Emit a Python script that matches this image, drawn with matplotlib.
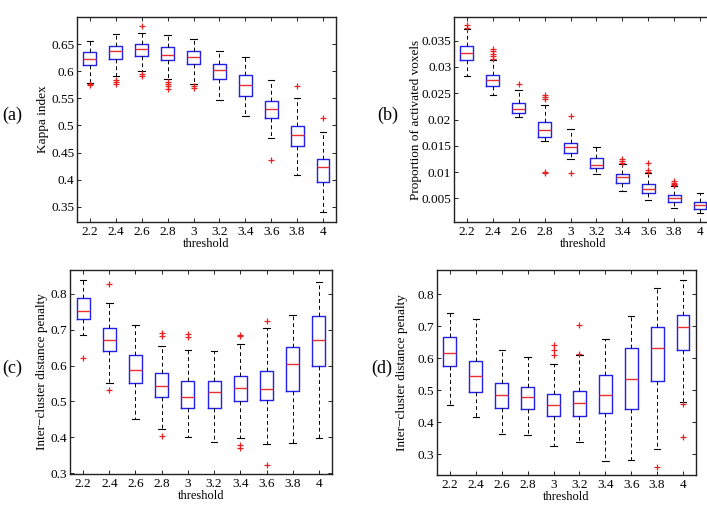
import matplotlib
matplotlib.use("Agg")
from matplotlib import pyplot as plt

thresholds = ['2.2', '2.4', '2.6', '2.8', '3', '3.2', '3.4', '3.6', '3.8', '4']

# (a) Kappa index
kappa_med = [0.623, 0.638, 0.641, 0.630, 0.627, 0.602, 0.575, 0.530, 0.482, 0.423]
kappa_q1 = [0.611, 0.622, 0.629, 0.621, 0.613, 0.585, 0.554, 0.514, 0.462, 0.396]
kappa_q3 = [0.635, 0.647, 0.651, 0.645, 0.638, 0.613, 0.594, 0.546, 0.499, 0.438]
kappa_lo = [0.578, 0.591, 0.601, 0.585, 0.576, 0.547, 0.517, 0.477, 0.409, 0.341]
kappa_hi = [0.656, 0.668, 0.670, 0.667, 0.660, 0.638, 0.627, 0.583, 0.551, 0.488]
kappa_out = [[0.576, 0.574], [0.584, 0.580, 0.576], [0.683, 0.595, 0.592],
             [0.581, 0.576, 0.572, 0.567], [0.572, 0.569], [], [], [0.436],
             [0.572], [0.514]]

# (b) Proportion of activated voxels
prop_med = [0.0327, 0.0275, 0.0220, 0.0181, 0.0148, 0.0114, 0.0090, 0.0067, 0.0051, 0.0037]
prop_q1 = [0.0314, 0.0263, 0.0213, 0.0166, 0.0136, 0.0108, 0.0080, 0.0061, 0.0044, 0.0030]
prop_q3 = [0.0340, 0.0285, 0.0232, 0.0195, 0.0155, 0.0127, 0.0096, 0.0077, 0.0057, 0.0044]
prop_lo = [0.0282, 0.0247, 0.0204, 0.0159, 0.0125, 0.0096, 0.0064, 0.0047, 0.0031, 0.0023]
prop_hi = [0.0372, 0.0313, 0.0257, 0.0228, 0.0182, 0.0148, 0.0116, 0.0098, 0.0073, 0.0060]
prop_out = [[0.0379, 0.0375], [0.0334, 0.0330, 0.0325, 0.0320, 0.0316], [0.0268],
            [0.0247, 0.0242, 0.0239, 0.0101, 0.0098], [0.0206, 0.0099], [],
            [0.0125, 0.0122, 0.0118], [0.0118, 0.0104, 0.0100],
            [0.0083, 0.0080, 0.0078, 0.0076], []]

# (c) Inter-cluster distance penalty
pen1_med = [0.751, 0.672, 0.587, 0.542, 0.513, 0.525, 0.538, 0.535, 0.603, 0.671]
pen1_q1 = [0.730, 0.640, 0.550, 0.513, 0.483, 0.482, 0.500, 0.503, 0.529, 0.599]
pen1_q3 = [0.787, 0.705, 0.630, 0.578, 0.557, 0.558, 0.571, 0.585, 0.652, 0.737]
pen1_lo = [0.684, 0.552, 0.450, 0.423, 0.401, 0.388, 0.399, 0.382, 0.385, 0.397]
pen1_hi = [0.839, 0.774, 0.714, 0.654, 0.643, 0.641, 0.659, 0.704, 0.742, 0.832]
pen1_out = [[0.622], [0.827, 0.533], [], [0.690, 0.681, 0.405], [0.688, 0.679], [],
            [0.686, 0.681, 0.379, 0.370], [0.725, 0.323], [], []]

# (d) Inter-cluster distance penalty
pen2_med = [0.616, 0.544, 0.484, 0.480, 0.455, 0.460, 0.484, 0.534, 0.631, 0.698]
pen2_q1 = [0.574, 0.495, 0.444, 0.440, 0.418, 0.420, 0.430, 0.442, 0.529, 0.626]
pen2_q3 = [0.666, 0.592, 0.523, 0.511, 0.489, 0.497, 0.546, 0.631, 0.696, 0.735]
pen2_lo = [0.453, 0.415, 0.364, 0.359, 0.327, 0.338, 0.278, 0.283, 0.315, 0.463]
pen2_hi = [0.742, 0.723, 0.625, 0.604, 0.583, 0.610, 0.659, 0.732, 0.820, 0.845]
pen2_out = [[], [], [], [], [0.641, 0.624, 0.609], [0.704, 0.614], [], [],
            [0.261], [0.457, 0.353]]

plt.rcParams['font.family'] = ['Liberation Serif', 'DejaVu Serif']
plt.rcParams['xtick.direction'] = 'in'
plt.rcParams['ytick.direction'] = 'in'

fig = plt.figure(figsize=(7.07, 5.07), dpi=100)


def draw_panel(rect, med, q1, q3, lo, hi, out, ylim, yticks, ylabels, ylabel, tag, tag_x, lab_x):
    ax = fig.add_axes(rect)
    stats = []
    for i in range(len(med)):
        stats.append({'med': med[i], 'q1': q1[i], 'q3': q3[i],
                      'whislo': lo[i], 'whishi': hi[i], 'fliers': out[i]})
    ax.bxp(stats, positions=range(1, len(med) + 1), widths=0.5, showfliers=True,
           boxprops=dict(color='#2020e8', linewidth=1.0),
           medianprops=dict(color='#e83030', linewidth=1.0),
           whiskerprops=dict(color='black', linestyle='--', linewidth=0.7, dashes=(4, 3)),
           capprops=dict(color='black', linewidth=0.8),
           flierprops=dict(marker='+', markeredgecolor='#e82020', markersize=5,
                           markeredgewidth=0.9, linestyle='none'),
           capwidths=0.25)
    ax.set_xlim(0.5, len(med) + 0.5)
    ax.set_xticks(range(1, len(med) + 1))
    ax.set_xticklabels(thresholds)
    ax.set_ylim(*ylim)
    ax.set_yticks(yticks)
    ax.set_yticklabels(ylabels)
    ax.tick_params(top=True, right=True, labelsize=9.5, length=3, width=0.6, pad=3)
    ax.tick_params(axis='y', pad=2)
    for sp in ax.spines.values():
        sp.set_linewidth(1.0)
        sp.set_color('#222222')
    ax.set_xlabel('threshold', fontsize=9, labelpad=0)
    ax.set_ylabel(ylabel, fontsize=9.5)
    ax.yaxis.set_label_coords(lab_x, 0.5)
    fig.text(tag_x, rect[1] + rect[3] * 0.52, tag, fontsize=13, va='center', ha='left')
    return ax


draw_panel([0.1089, 0.5621, 0.3663, 0.4043], kappa_med, kappa_q1, kappa_q3, kappa_lo, kappa_hi,
           kappa_out, (0.322, 0.70), [0.35, 0.4, 0.45, 0.5, 0.55, 0.6, 0.65],
           ['0.35', '0.4', '0.45', '0.5', '0.55', '0.6', '0.65'], 'Kappa index', '(a)', 0.003, -0.108)
draw_panel([0.6421, 0.5621, 0.3663, 0.4043], prop_med, prop_q1, prop_q3, prop_lo, prop_hi,
           prop_out, (0.0005, 0.0395), [0.005, 0.01, 0.015, 0.02, 0.025, 0.03, 0.035],
           ['0.005', '0.01', '0.015', '0.02', '0.025', '0.03', '0.035'],
           'Proportion of activated voxels', '(b)', 0.533, -0.122)
draw_panel([0.0990, 0.0651, 0.3706, 0.4024], pen1_med, pen1_q1, pen1_q3, pen1_lo, pen1_hi,
           pen1_out, (0.298, 0.866), [0.3, 0.4, 0.5, 0.6, 0.7, 0.8],
           ['0.3', '0.4', '0.5', '0.6', '0.7', '0.8'],
           'Inter\u2212cluster distance penalty', '(c)', 0.003, -0.085)
draw_panel([0.6181, 0.0631, 0.3663, 0.4043], pen2_med, pen2_q1, pen2_q3, pen2_lo, pen2_hi,
           pen2_out, (0.235, 0.875), [0.3, 0.4, 0.5, 0.6, 0.7, 0.8],
           ['0.3', '0.4', '0.5', '0.6', '0.7', '0.8'],
           'Inter\u2212cluster distance penalty', '(d)', 0.525, -0.112)

fig.savefig('out.png', dpi=100)
